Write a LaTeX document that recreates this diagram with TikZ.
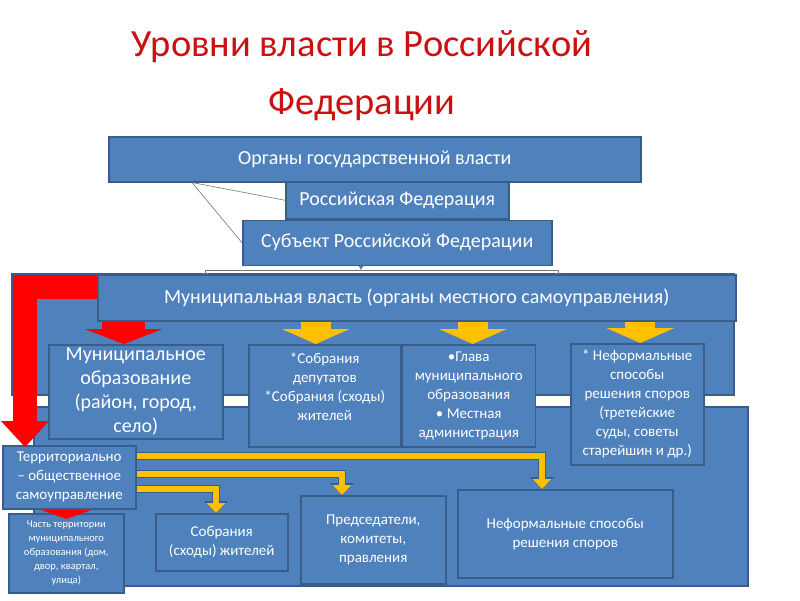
\documentclass[tikz,border=0pt]{standalone}
\usepackage{fontspec}
\setmainfont{Carlito}
\usepackage{tikz}
\usetikzlibrary{arrows.meta,positioning,calc}

\definecolor{boxblue}{RGB}{79,129,189}
\definecolor{boxline}{RGB}{56,93,138}
\definecolor{arrowyellow}{RGB}{255,192,0}
\definecolor{titlered}{RGB}{204,16,16}

\begin{document}
\begin{tikzpicture}[x=1pt, y=-1pt]
% STYLES
\tikzset{%
    level/.style={%
        rectangle, draw=boxline, fill=boxblue, line width=1.5pt,
        text=white, align=center, inner sep=2pt, anchor=north west
    },
    headline/.style={text=titlered, align=center, font=\fontsize{38.5}{58}\selectfont},
    headtext/.style={font=\fontsize{20}{23}\selectfont},
    bigtext/.style={font=\fontsize{20}{24}\selectfont},
    plaintext/.style={font=\fontsize{15}{19}\selectfont},
    smalltext/.style={font=\fontsize{10.5}{14}\selectfont},
    panel/.style={draw=boxline, fill=boxblue, line width=1.5pt},
    link/.style={draw=black!55, line width=0.6pt},
    fatred/.style={draw=red, line width=43pt, -{Triangle[width=78pt,length=15pt,line width=0pt]}},
    fatyellow/.style={draw=arrowyellow, line width=30pt, -{Triangle[width=68pt,length=15pt,line width=0pt]}},
    yellowbar/.style={draw=arrowyellow, line width=5.5pt,
        -{Triangle[width=19pt,length=10pt,line width=0pt]},
        preaction={draw=boxline, line width=8pt, -{Triangle[width=24pt,length=12pt,line width=0pt]}}}
}
\useasboundingbox (0,0) rectangle (800,600);
% Title
\node[headline] (title) at (362,76) {Уровни власти в Российской\\Федерации};
% Draw state levels
\node[level, headtext, minimum width=532pt, minimum height=45pt] (organs) at (108,136) {Органы государственной власти};
\node[level, headtext, minimum width=223pt, minimum height=37pt] (rf) at (285,181) {Российская Федерация};
\node[level, headtext, minimum width=309pt, minimum height=45pt, below=0pt of rf] (subj) {Субъект Российской Федерации};
\draw[link] ($(organs.south west)+(84,0)$) -- (rf.west);
\draw[link] ($(organs.south west)+(84,0)$) -- (subj.west);
% Panels
\draw[panel] (34,407) rectangle (748,586);
\draw[panel] (12,274) rectangle (734,395);
% Org chart connector
\coordinate (hub) at ($(subj.south west)+(119,4)$);
\coordinate (jl) at (205,274);
\coordinate (jr) at (558,274);
\draw[link, -{Latex[length=4pt,width=5pt]}] (subj.south -| hub) -- (hub);
\draw[link, -{Bar[width=6pt]}] (hub) -| (jl);
\draw[link, -{Bar[width=6pt]}] (hub) -| (jr);
% Municipal level
\node[level, minimum width=133pt, minimum height=63pt, plaintext] (tos) at (2,445) {Территориально\\– общественное\\самоуправление};
\draw[draw=red, line width=24pt, -{Triangle[width=48pt,length=26pt,line width=0pt]}]
    ($(tos.north west)+(97,-158)$) -| ($(tos.north west)+(23,2)$);
\node[level, headtext, minimum width=638pt, minimum height=46pt] (munpower) at (97,274) {Муниципальная власть (органы местного самоуправления)};
\node[level, bigtext, minimum width=174pt, minimum height=94pt] (munobr) at (48,344) {Муниципальное\\образование\\(район, город,\\село)};
\node[level, plaintext, minimum width=152pt, minimum height=102pt] (sobr) at (248,344) {*Собрания\\депутатов\\*Собрания (сходы)\\жителей\\ \mbox{}};
\node[level, plaintext, minimum width=133pt, minimum height=102pt, right=0pt of sobr] (glava) {•Глава\\муниципального\\образования\\• Местная\\администрация};
\node[level, plaintext, minimum width=133pt, minimum height=121pt] (neform) at (570,343) {* Неформальные\\способы\\решения споров\\(третейские\\суды, советы\\старейшин и др.)};
% Draw the links between levels
\draw[fatred] ($(munobr.north |- munpower.south)+(-12,0)$) -- ($(munobr.north)+(-12,0)$);
\draw[fatyellow] ($(sobr.north |- munpower.south)+(-9,0)$) -- ($(sobr.north)+(-9,0)$);
\draw[fatyellow] ($(glava.north |- munpower.south)+(4,0)$) -- ($(glava.north)+(4,0)$);
\draw[fatyellow] ($(neform.north |- munpower.south)+(3,0)$) -- ($(neform.north)+(3,0)$);
% Territorial self-government
\node[level, smalltext, minimum width=115pt, minimum height=79pt] (chast) at (8,513) {Часть территории\\муниципального\\образования (дом,\\двор, квартал,\\улица)};
\node[level, plaintext, minimum width=132pt, minimum height=57pt] (shody) at (155,513) {Собрания\\(сходы) жителей};
\node[level, plaintext, minimum width=145pt, minimum height=88pt] (pred) at (300,495) {Председатели,\\комитеты,\\правления};
\node[level, plaintext, minimum width=215pt, minimum height=88pt] (neform2) at (457,489) {Неформальные способы\\решения споров};
\draw[yellowbar] ($(tos.north east)+(0,11)$) -| ($(neform2.north west)+(85,0)$);
\draw[yellowbar] ($(tos.north east)+(0,29)$) -| ($(pred.north west)+(42,0)$);
\draw[yellowbar] ($(tos.north east)+(0,44)$) -| ($(shody.north west)+(61,0)$);
\draw[draw=red, line width=18pt, -{Triangle[width=50pt,length=9pt,line width=0pt]}]
    (tos.south -| chast.north) -- ($(chast.north)+(0,6)$);
\end{tikzpicture}
\end{document}
